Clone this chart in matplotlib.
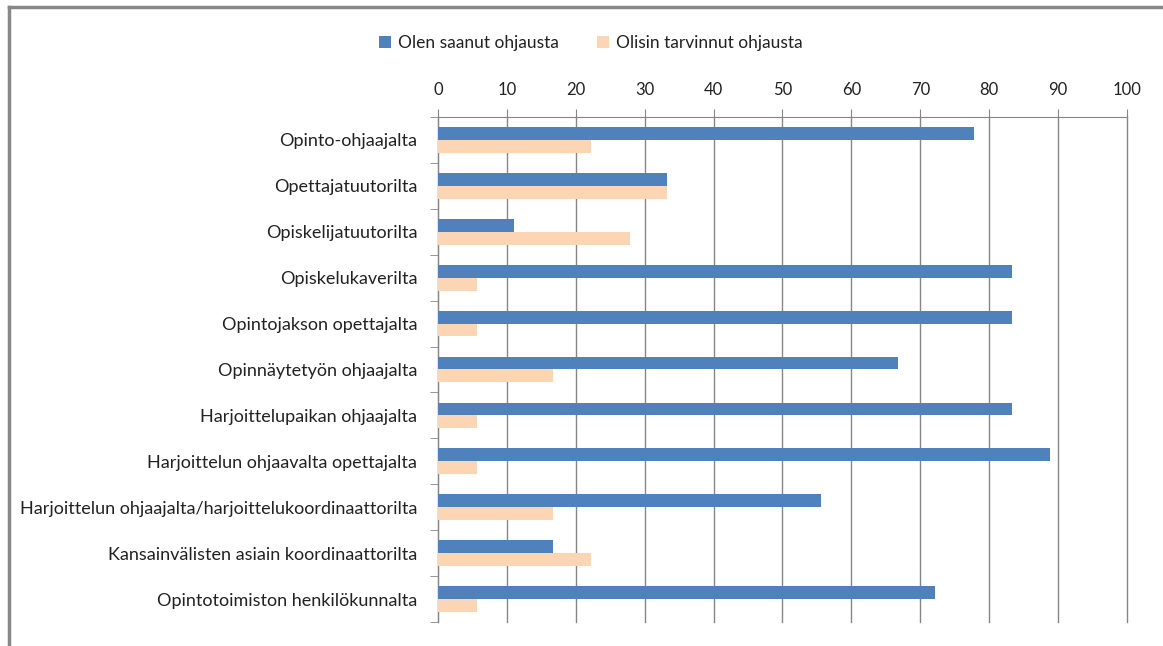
import matplotlib
matplotlib.use("Agg")
import matplotlib.pyplot as plt
from matplotlib.lines import Line2D
import numpy as np

# data (percent)
categories = [
    "Opinto-ohjaajalta",
    "Opettajatuutorilta",
    "Opiskelijatuutorilta",
    "Opiskelukaverilta",
    "Opintojakson opettajalta",
    "Opinnäytetyön ohjaajalta",
    "Harjoittelupaikan ohjaajalta",
    "Harjoittelun ohjaavalta opettajalta",
    "Harjoittelun ohjaajalta/harjoittelukoordinaattorilta",
    "Kansainvälisten asiain koordinaattorilta",
    "Opintotoimiston henkilökunnalta",
]
saanut = [77.8, 33.3, 11.1, 83.3, 83.3, 66.7, 83.3, 88.9, 55.6, 16.7, 72.2]
tarvinnut = [22.2, 33.3, 27.8, 5.6, 5.6, 16.7, 5.6, 5.6, 16.7, 22.2, 5.6]
xticks = list(range(0, 101, 10))

plt.rcParams['font.family'] = ['Lato', 'DejaVu Sans']

fig = plt.figure(figsize=(11.63, 6.46), dpi=100)
ax = fig.add_axes([0.3766, 0.0372, 0.5924, 0.7817])

y = np.arange(len(categories))
h = 0.28
ax.barh(y - h / 2, saanut, height=h, color="#4F81BD", label="Olen saanut ohjausta", zorder=3)
ax.barh(y + h / 2, tarvinnut, height=h, color="#FCD5B5", label="Olisin tarvinnut ohjausta", zorder=3)

ax.set_xlim(0, 100)
ax.set_ylim(len(categories) - 0.5, -0.5)
ax.set_xticks(xticks)
ax.xaxis.tick_top()
ax.tick_params(axis='x', direction='out', length=6, color='#868686', labelsize=12, labelcolor='#222222', pad=8)
ax.grid(axis='x', color='#868686', linewidth=1, zorder=0)
for gl in ax.get_xgridlines():
    gl.set_clip_on(False)

ax.set_yticks(y)
ax.set_yticklabels(categories)
ax.set_yticks(np.arange(len(categories) + 1) - 0.5, minor=True)
ax.tick_params(axis='y', which='major', length=0, labelsize=13, labelcolor='#222222', pad=15)
ax.tick_params(axis='y', which='minor', length=6, color='#868686')

for s in ['right', 'bottom']:
    ax.spines[s].set_visible(False)
for s in ['top', 'left']:
    ax.spines[s].set_color('#868686')

fig.legend(loc='center', bbox_to_anchor=(0.508, 0.933), ncol=2, frameon=False,
           fontsize=12.5, handlelength=0.7, handleheight=0.7, handletextpad=0.4,
           columnspacing=2.2, labelcolor='#222222')

# chart border
fig.add_artist(Line2D([0.008, 1.0], [0.989, 0.989], color='#888888', linewidth=2.5))
fig.add_artist(Line2D([0.008, 0.008], [0.0, 0.989], color='#888888', linewidth=2.5))

fig.savefig("out.png", dpi=100)
